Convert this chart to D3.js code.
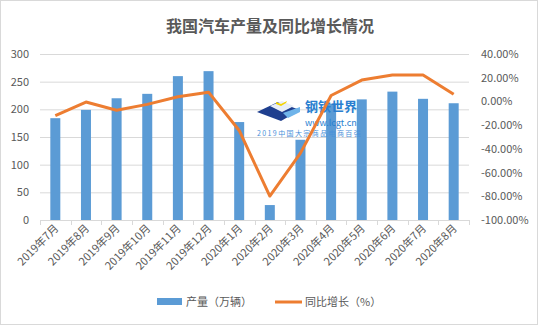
<!DOCTYPE html>
<html><head><meta charset="utf-8">
<script src="https://cdn.jsdelivr.net/npm/d3@7"></script>
<style>
body{margin:0;background:#fff;}
text{font-family:"Microsoft YaHei","Noto Sans CJK SC",sans-serif;}
</style></head>
<body><svg id="c" width="538" height="325"></svg>
<script>
const categories=["2019年7月","2019年8月","2019年9月","2019年10月","2019年11月","2019年12月","2020年1月","2020年2月","2020年3月","2020年4月","2020年5月","2020年6月","2020年7月","2020年8月"];
const production=[184,199,220,228,260,269,177,27,145,210,218,232,219,211];
const growth=[-12,-0.5,-7.5,-2.5,4,7.8,-24.5,-79.8,-43.6,5,18,22.3,22.3,6];
const leftTicks=[0,50,100,150,200,250,300];
const rightTicks=[-100,-80,-60,-40,-20,0,20,40];
const seriesNames=["产量（万辆）","同比增长（%）"];
const title="我国汽车产量及同比增长情况";

const svg=d3.select("#c");
svg.append("rect").attr("x",0.5).attr("y",0.5).attr("width",537).attr("height",324).attr("fill","#fff").attr("stroke","#d9d9d9");
const L=40,R=469,T=54,B=220;
const x=d3.scaleBand().domain(categories).range([L,R]);
const yL=d3.scaleLinear().domain([0,300]).range([B,T]);
const yR=d3.scaleLinear().domain([-100,40]).range([B,T]);
const txt="#595959";

svg.append("text").attr("x",270).attr("y",32).attr("text-anchor","middle").attr("font-size",16).attr("font-weight","bold").attr("fill",txt).text(title);

// gridlines
svg.append("g").selectAll("line").data(leftTicks.slice(1)).join("line")
 .attr("x1",L).attr("x2",R).attr("y1",d=>yL(d)+0.5).attr("y2",d=>yL(d)+0.5).attr("stroke","#d9d9d9");

// left axis labels
svg.append("g").selectAll("text").data(leftTicks).join("text")
 .attr("x",29).attr("y",d=>yL(d)+4).attr("text-anchor","end").attr("font-size",11).attr("fill",txt).text(d=>d);
// right axis labels
svg.append("g").selectAll("text").data(rightTicks).join("text")
 .attr("x",481).attr("y",d=>yR(d)+4).attr("text-anchor","start").attr("font-size",11).attr("fill",txt).text(d=>d.toFixed(2)+"%");

// bars
const bw=10;
svg.append("g").selectAll("rect").data(production).join("rect")
 .attr("x",(d,i)=>x(categories[i])+x.bandwidth()/2-bw/2).attr("width",bw)
 .attr("y",d=>yL(d)).attr("height",d=>B-yL(d)).attr("fill","#5B9BD5");

// x axis
const ax=svg.append("g");
ax.append("line").attr("x1",L).attr("x2",R).attr("y1",B+0.5).attr("y2",B+0.5).attr("stroke","#d9d9d9");
const bounds=categories.map(c=>x(c)).concat([R]);
ax.selectAll("line.t").data(bounds).join("line").attr("class","t")
 .attr("x1",d=>Math.round(d)+0.5).attr("x2",d=>Math.round(d)+0.5).attr("y1",B).attr("y2",B+5).attr("stroke","#d9d9d9");
ax.selectAll("text").data(categories).join("text")
 .attr("transform",d=>`translate(${x(d)+x.bandwidth()/2+4},${B+9}) rotate(-45)`)
 .attr("text-anchor","end").attr("font-size",11).attr("fill",txt).text(d=>d);

// watermark logo
const wm=svg.append("g");
wm.append("path").attr("d","M257,112 L278,102 L300,110 L281,121 Z").attr("fill","#1f3f8f");
wm.append("path").attr("d","M270,106 L282,101 L294,106 L282,112 Z").attr("fill","#e8eef8");
wm.append("path").attr("d","M276,102 L281,104 L287,101 L286,103 L281,106 L276,104 Z").attr("fill","#f5d400");
wm.append("path").attr("d","M283,113 L300,107 L300,112 L288,118 Z").attr("fill","#6fb4ea");
wm.append("text").attr("x",305).attr("y",111).attr("font-size",13).attr("font-weight","bold").attr("fill","#2a7fd0").text("钢铁世界");
wm.append("text").attr("x",305).attr("y",125.5).attr("font-size",9).attr("font-family","Liberation Sans, sans-serif").attr("fill","#2a7fd0").text("www.lcgt.cn");
wm.append("text").attr("x",257).attr("y",136).attr("font-size",7).attr("letter-spacing",1.4).attr("fill","#4a90d9").text("2019中国大宗商品电商百强");

// line
const line=d3.line().x((d,i)=>x(categories[i])+x.bandwidth()/2).y(d=>yR(d));
svg.append("path").datum(growth).attr("d",line).attr("fill","none").attr("stroke","#ED7D31").attr("stroke-width",3).attr("stroke-linejoin","round");

// legend
const lg=svg.append("g");
lg.append("rect").attr("x",157).attr("y",298).attr("width",25).attr("height",7).attr("fill","#5B9BD5");
lg.append("text").attr("x",186).attr("y",306).attr("font-size",11).attr("fill",txt).text(seriesNames[0]);
lg.append("line").attr("x1",275).attr("x2",302).attr("y1",302).attr("y2",302).attr("stroke","#ED7D31").attr("stroke-width",3);
lg.append("text").attr("x",305).attr("y",306).attr("font-size",11).attr("fill",txt).text(seriesNames[1]);
</script></body></html>
